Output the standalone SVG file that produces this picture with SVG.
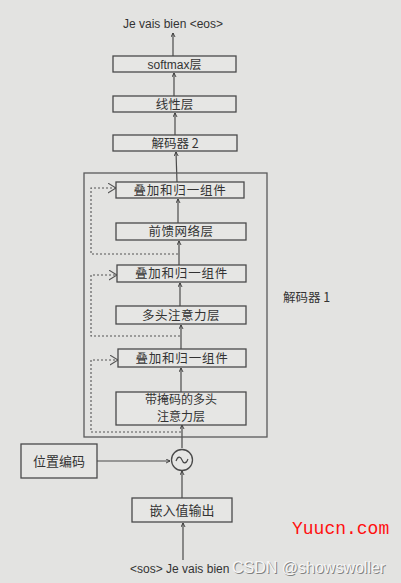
<svg xmlns="http://www.w3.org/2000/svg" width="401" height="583" viewBox="0 0 401 583">
<defs>
<style>
.bg{fill:#e3e3e1}
.box{fill:#e6e6e4;stroke:#4a4a4a;stroke-width:1.3}
.frame{fill:none;stroke:#5a5a5a;stroke-width:1.3}
.ln{fill:none;stroke:#4a4a4a;stroke-width:1.2}
.dash{fill:none;stroke:#555;stroke-width:1.1;stroke-dasharray:2 2}
.t{font-family:"Liberation Sans","Noto Sans CJK SC",sans-serif;font-size:12px;fill:#333;text-anchor:middle}
.c{font-family:"Noto Sans CJK SC","Liberation Sans",sans-serif;font-size:12.5px;fill:#333;text-anchor:middle}
.wm{font-family:"Liberation Sans",sans-serif;font-size:16px}
</style>
<marker id="a" viewBox="0 0 8 8" refX="7" refY="4" markerWidth="5" markerHeight="5" orient="auto" markerUnits="userSpaceOnUse">
<path d="M0,0.5 L7,4 L0,7.5" fill="none" stroke="#333" stroke-width="1.4"/>
</marker>
<marker id="b" viewBox="0 0 10 12" refX="9" refY="6" markerWidth="9" markerHeight="11" orient="auto" markerUnits="userSpaceOnUse">
<path d="M0,0.5 L9,6 L0,11.5" fill="none" stroke="#555" stroke-width="1.2"/>
</marker>
</defs>
<rect class="bg" x="0" y="0" width="401" height="583"/>

<g id="connectors">
<line class="ln" x1="173" y1="56" x2="173" y2="33" marker-end="url(#a)"/>
<line class="ln" x1="174" y1="96" x2="174" y2="73" marker-end="url(#a)"/>
<line class="ln" x1="175" y1="135" x2="175" y2="113" marker-end="url(#a)"/>
<line class="ln" x1="177" y1="182" x2="176" y2="152" marker-end="url(#a)"/>
<line class="ln" x1="178" y1="223" x2="178" y2="199" marker-end="url(#a)"/>
<line class="ln" x1="179" y1="265" x2="179" y2="241" marker-end="url(#a)"/>
<line class="ln" x1="180" y1="306" x2="180" y2="283" marker-end="url(#a)"/>
<line class="ln" x1="181" y1="349" x2="181" y2="325" marker-end="url(#a)"/>
<line class="ln" x1="181" y1="393" x2="181" y2="368" marker-end="url(#a)"/>
<line class="ln" x1="182" y1="448" x2="182" y2="425" marker-end="url(#a)"/>
<line class="ln" x1="182" y1="498" x2="182" y2="471" marker-end="url(#a)"/>
<line class="ln" x1="183" y1="560" x2="183" y2="523" marker-end="url(#a)"/>
<line class="ln" x1="97" y1="461" x2="170" y2="461" marker-end="url(#a)"/>
<polyline class="dash" points="178,254 91,254 91,188 116,188" marker-end="url(#b)"/>
<polyline class="dash" points="180,336 91,336 91,275 117,275" marker-end="url(#b)"/>
<polyline class="dash" points="181,432 91,432 91,360 118,360" marker-end="url(#b)"/>
</g>

<text class="t" x="173" y="28">Je vais bien &lt;eos&gt;</text>

<g id="softmax"><rect class="box" x="113" y="56" width="123" height="16"/><text class="t" x="174.5" y="68.5">softmax层</text></g>
<g id="linear"><rect class="box" x="113" y="96" width="123" height="16"/><text class="c" x="174.5" y="108.5">线性层</text></g>
<g id="decoder2"><rect class="box" x="113" y="135" width="124" height="16"/><text class="c" x="175" y="147.5">解码器 2</text></g>

<g id="decoder1">
<rect class="frame" x="84" y="173" width="183" height="264"/>
<text class="c" x="283" y="302" style="text-anchor:start">解码器 1</text>
</g>
<g id="addnorm1"><rect class="box" x="116" y="182" width="128" height="16"/><text class="c" x="180" y="194.5" letter-spacing="0.8">叠加和归一组件</text></g>
<g id="ffn"><rect class="box" x="116" y="223" width="130" height="17"/><text class="c" x="181" y="236" letter-spacing="0.5">前馈网络层</text></g>
<g id="addnorm2"><rect class="box" x="117" y="265" width="129" height="17"/><text class="c" x="181.5" y="278" letter-spacing="0.8">叠加和归一组件</text></g>
<g id="mha"><rect class="box" x="116" y="306" width="130" height="18"/><text class="c" x="181" y="319.5" letter-spacing="0.5">多头注意力层</text></g>
<g id="addnorm3"><rect class="box" x="118" y="349" width="128" height="18"/><text class="c" x="182" y="362.5" letter-spacing="0.8">叠加和归一组件</text></g>
<g id="masked"><rect class="box" x="116" y="392" width="130" height="33"/><text class="c" x="181" y="404" style="font-size:12px">带掩码的多头</text><text class="c" x="181" y="420.5" style="font-size:12px">注意力层</text></g>

<g id="add"><circle cx="182" cy="460" r="10.5" fill="#e6e6e4" stroke="#4a4a4a" stroke-width="1.3"/><path d="M176,461 C178,455 181,457 182,460 C183,463 186,465 188,459" fill="none" stroke="#444" stroke-width="1.1"/></g>
<g id="posenc"><rect class="box" x="21" y="444" width="76" height="34"/><text class="c" x="59" y="465.5" style="font-size:13px">位置编码</text></g>
<g id="embed"><rect class="box" x="132" y="498" width="100" height="24"/><text class="c" x="182" y="514.5" style="font-size:13px">嵌入值输出</text></g>

<text class="t" x="130" y="573" style="text-anchor:start">&lt;sos&gt; Je vais bien</text>
<text x="292" y="534" style="font-family:'Liberation Mono',monospace;font-size:18px;fill:#ff1010">Yuucn.com</text>
<g id="watermark">
<text class="wm" x="233" y="574" fill="#6a6a6a" opacity="0.8">CSDN @showswoller</text>
<text class="wm" x="232" y="573" fill="#f6f6f6">CSDN @showswoller</text>
</g>
</svg>
